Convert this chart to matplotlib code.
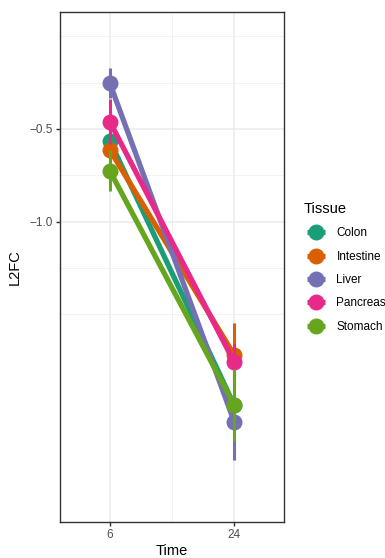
import numpy as np
import matplotlib.pyplot as plt
from matplotlib.lines import Line2D

plt.rcParams['font.family'] = ['Liberation Sans', 'DejaVu Sans']

tissues = ['Colon', 'Intestine', 'Liver', 'Pancreas', 'Stomach']
colors = ['#1B9E77', '#D95F02', '#7570B3', '#E7298A', '#66A61E']
times = ['6', '24']

l2fc_6 = [-0.563, -0.613, -0.252, -0.46, -0.725]
l2fc_24 = [-1.99, -1.719, -2.079, -1.758, -1.989]
err_6 = [0.08, 0.08, 0.08, 0.12, 0.112]
err_24 = [0.05, 0.174, 0.206, 0.10, 0.195]

fig = plt.figure(figsize=(3.85, 5.58), dpi=100)
ax = fig.add_axes([60/385, 36/558, 224/385, 510/558])

xpos = np.array([1, 2])
for i, t in enumerate(tissues):
    y = np.array([l2fc_6[i], l2fc_24[i]])
    e = np.array([err_6[i], err_24[i]])
    ax.plot(xpos, y, color=colors[i], lw=3.8, solid_capstyle='butt', zorder=3 + i)
    ax.vlines(xpos, y - e, y + e, color=colors[i], lw=2.2, zorder=3 + i)
    ax.plot(xpos, y, 'o', color=colors[i], ms=11.5, mec='none', zorder=3 + i)

ax.set_xlim(0.6, 2.4)
ax.set_ylim(-2.62, 0.131)
ax.set_xticks(xpos)
ax.set_xticklabels(times)
ax.set_xticks([1.5], minor=True)
ax.set_yticks([-0.5, -1.0])
ax.set_yticklabels(['\u22120.5', '\u22121.0'])
ax.set_yticks([0.0, -0.25, -0.75, -1.25, -1.5], minor=True)

ax.grid(True, which='major', color='#EBEBEB', lw=1.1, zorder=0)
ax.grid(True, which='minor', color='#F0F0F0', lw=0.6, zorder=0)
ax.set_axisbelow(True)
ax.tick_params(which='major', length=3, width=1, color='#333333',
               labelsize=8.5, labelcolor='#4D4D4D', pad=2)
ax.tick_params(which='minor', length=0)
for s in ax.spines.values():
    s.set_color('#333333')
    s.set_linewidth(1)

ax.set_xlabel('Time', fontsize=10.5, labelpad=2)
ax.set_ylabel('L2FC', fontsize=10.5, labelpad=6)

# legend key: point with a short horizontal line through it
handles = [(Line2D([0], [0], ls='none', marker='_', ms=12.5, mew=3.8, color=c),
            Line2D([0], [0], ls='none', marker='o', ms=11.5, mec='none', color=c))
           for c in colors]
leg = fig.legend(handles, tissues, loc='upper left', bbox_to_anchor=(304/385, 1 - 202/558),
                 frameon=False, title='Tissue', fontsize=8.5, title_fontsize=10.5,
                 handlelength=2.0, handletextpad=0.75, labelspacing=0.96,
                 borderaxespad=0, borderpad=0, alignment='left')

fig.savefig('out.png', dpi=100)
